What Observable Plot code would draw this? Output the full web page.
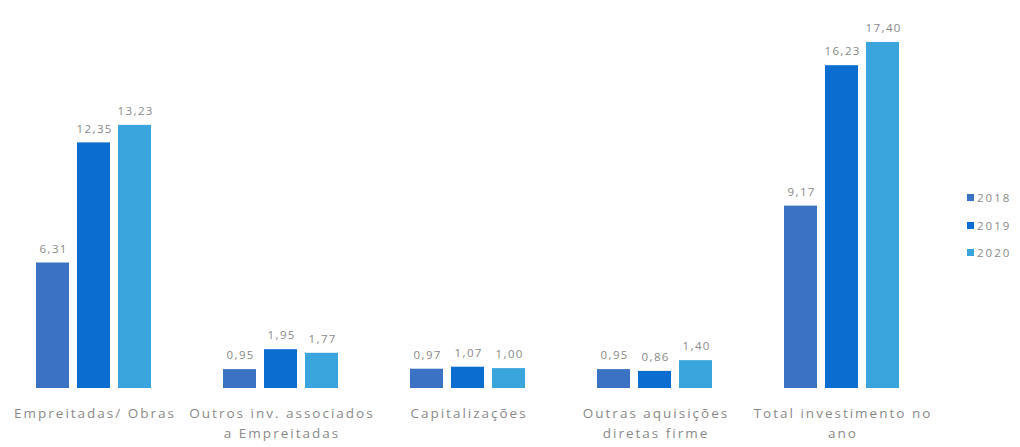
<!DOCTYPE html>
<html>
<head>
<meta charset="utf-8">
<script src="https://cdn.jsdelivr.net/npm/d3@7"></script>
<script src="https://cdn.jsdelivr.net/npm/@observablehq/plot@0.6"></script>
<style>
  html, body { margin: 0; padding: 0; background: #fff; }
  #wrap { position: relative; width: 1020px; height: 447px; }
  #legend { position: absolute; left: 967px; top: 184px; font-family: "Open Sans", sans-serif; font-size: 11.5px; color: #8a8a8a; letter-spacing: 2px; }
  #legend div { display: flex; align-items: center; height: 27.5px; }
  #legend span.sw { display: inline-block; width: 7px; height: 7px; margin-right: 3px; }
  .vlab text { letter-spacing: 1.4px; }
  .cat text { letter-spacing: 2px; }
</style>
</head>
<body>
<div id="wrap"><div id="chart"></div><div id="legend"></div></div>
<script>
const categories = [
  "Empreitadas/ Obras",
  "Outros inv. associados\na Empreitadas",
  "Capitalizações",
  "Outras aquisições\ndiretas firme",
  "Total investimento no\nano"
];
const years = ["2018", "2019", "2020"];
const values2018 = [6.31, 0.95, 0.97, 0.95, 9.17];
const values2019 = [12.35, 1.95, 1.07, 0.86, 16.23];
const values2020 = [13.23, 1.77, 1.00, 1.40, 17.40];
const colors = ["#3b72c4", "#0b6dcf", "#3aa4dd"];

const series = [values2018, values2019, values2020];
const data = [];
categories.forEach((c, i) => {
  years.forEach((y, j) => data.push({category: c, year: y, value: series[j][i]}));
});

const fmt = v => v.toFixed(2).replace(".", ",");

const chart = Plot.plot({
  width: 1020,
  height: 447,
  marginLeft: 0,
  marginRight: 85,
  marginTop: 30,
  marginBottom: 59,
  style: {fontFamily: "'Open Sans', sans-serif", color: "#6b6b6b"},
  fx: {domain: categories, padding: 0, label: null, axis: null},
  x: {domain: years, paddingInner: 0.2, paddingOuter: 0.87, axis: null},
  y: {domain: [0, 18], axis: null},
  color: {domain: years, range: colors},
  marks: [
    Plot.barY(data, {fx: "category", x: "year", y: "value", fill: "year"}),
    Plot.text(data, {fx: "category", x: "year", y: "value", text: d => fmt(d.value), dy: -14, dx: 0.7, fontSize: 11.5, fill: "#8a8a8a", className: "vlab"}),
    Plot.text(categories, {fx: d => d, text: d => d, frameAnchor: "bottom", lineAnchor: "top", dy: 15, dx: 1, fontSize: 13.5, fill: "#8a8a8a", lineHeight: 1.5, className: "cat"})
  ]
});
document.getElementById("chart").appendChild(chart);

const legend = document.getElementById("legend");
years.forEach((y, j) => {
  const row = document.createElement("div");
  row.innerHTML = `<span class="sw" style="background:${colors[j]}"></span>${y}`;
  legend.appendChild(row);
});
</script>
</body>
</html>
